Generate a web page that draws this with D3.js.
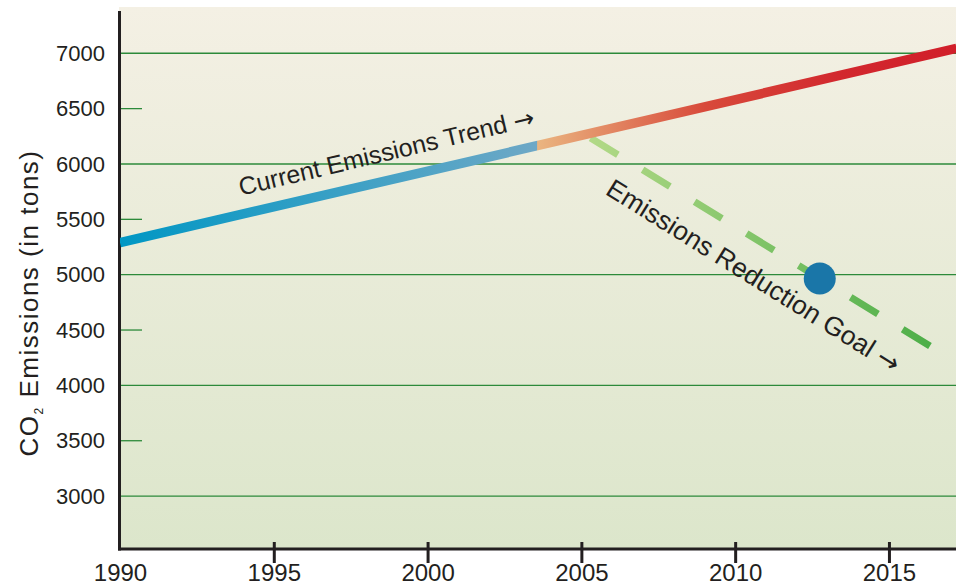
<!DOCTYPE html>
<html lang='en'>
<head>
	<meta charset='UTF-8'/>
	<title>CO2 Emissions: trend vs reduction goal</title>
	<script src='https://cdnjs.cloudflare.com/ajax/libs/d3/7.8.5/d3.min.js'></script>
	<style>
		body {margin: 0; background: #fff;}
		svg {display: block; font-family: 'Liberation Sans', Arial, Helvetica, sans-serif;}
		.arrow {font-family: 'DejaVu Sans', sans-serif;}
	</style>
</head>
<body>
	<div class='graph'></div>
	<script>
		// values
		const xTicks = [1990, 1995, 2000, 2005, 2010, 2015];
		const yTicks = [3000, 3500, 4000, 4500, 5000, 5500, 6000, 6500, 7000];
		const yGrid = [3000, 4000, 5000, 6000, 7000];
		const trendYears = [1990, 2017.2];
		const trendValues = [5290, 7045];
		const goalYears = [2005.3, 2016.4];
		const goalValues = [6235, 4345];
		const targetYears = [2012.75];
		const targetValues = [4965];

		const width = 956, height = 586;
		const ink = '#231f20';

		const x = d3.scaleLinear().domain([1990, 2017.18]).range([120, 956]);
		const y = d3.scaleLinear().domain([2531, 7418]).range([548, 7]);

		const svg = d3.select('.graph')
			.append('svg')
			.attr('width', width)
			.attr('height', height);

		const defs = svg.append('defs');

		// background fade, cream to pale green
		const bg = defs.append('linearGradient')
			.attr('id', 'bgGrad')
			.attr('x1', 0).attr('x2', 0).attr('y1', 0).attr('y2', 1);
		bg.append('stop').attr('offset', 0).attr('stop-color', '#f4f0e4');
		bg.append('stop').attr('offset', 1).attr('stop-color', '#dce6cb');

		// trend line: blue, then a jump to orange fading to red
		const trendGrad = defs.append('linearGradient')
			.attr('id', 'trendGrad')
			.attr('gradientUnits', 'userSpaceOnUse')
			.attr('x1', x(1990)).attr('x2', x.range()[1])
			.attr('y1', 0).attr('y2', 0);
		[[0, '#0097c4'], [0.4985, '#6ea8c6'], [0.4995, '#eab580'],
		 [0.7, '#d84a3b'], [0.86, '#d2282e'], [1, '#d11f2a']]
			.forEach(s => trendGrad.append('stop').attr('offset', s[0]).attr('stop-color', s[1]));

		const goalGrad = defs.append('linearGradient')
			.attr('id', 'goalGrad')
			.attr('gradientUnits', 'userSpaceOnUse')
			.attr('x1', x(goalYears[0])).attr('x2', x(goalYears[1]))
			.attr('y1', 0).attr('y2', 0);
		goalGrad.append('stop').attr('offset', 0).attr('stop-color', '#b2d987');
		goalGrad.append('stop').attr('offset', 1).attr('stop-color', '#4dae48');

		defs.append('clipPath').attr('id', 'plotClip')
			.append('rect')
			.attr('x', x(1990)).attr('y', y.range()[1])
			.attr('width', x.range()[1] - x(1990))
			.attr('height', y.range()[0] - y.range()[1]);

		svg.append('rect')
			.attr('x', x(1990) - 1)
			.attr('y', y.range()[1])
			.attr('width', x.range()[1] - x(1990) + 1)
			.attr('height', y.range()[0] - y.range()[1])
			.attr('fill', 'url(#bgGrad)');

		// gridlines (full) and half-step ticks (short)
		svg.append('g')
			.selectAll('line')
			.data(yTicks)
			.join('line')
			.attr('x1', x(1990))
			.attr('x2', d => yGrid.includes(d) ? x.range()[1] : x(1990) + 22)
			.attr('y1', d => y(d))
			.attr('y2', d => y(d))
			.attr('stroke', '#2c8a3a')
			.attr('stroke-width', 1.3);

		// Y axis labels
		const yAxis = svg.append('g')
			.attr('transform', 'translate(' + x(1990) + ',0)')
			.call(d3.axisLeft(y).tickValues(yTicks).tickSize(0).tickPadding(15).tickFormat(d3.format('d')));
		yAxis.select('.domain').remove();
		yAxis.selectAll('text')
			.attr('fill', ink)
			.style('font-size', '22px')
			.style('font-family', null);

		// X axis
		const xAxis = svg.append('g')
			.attr('transform', 'translate(0,' + (y.range()[0] + 1) + ')')
			.call(d3.axisBottom(x).tickValues(xTicks).tickSize(14).tickFormat(d3.format('d')));
		xAxis.select('.domain').remove();
		xAxis.selectAll('.tick line')
			.attr('y1', -7)
			.attr('stroke', ink)
			.attr('stroke-width', 3)
			.attr('display', d => d === 1990 ? 'none' : null);
		xAxis.selectAll('text')
			.attr('y', 32)
			.attr('dy', 0)
			.attr('fill', ink)
			.style('font-size', '24px')
			.style('font-family', null);

		// frame
		svg.append('line')
			.attr('x1', x(1990) - 0.5).attr('x2', x(1990) - 0.5)
			.attr('y1', 11).attr('y2', y.range()[0] + 2.5)
			.attr('stroke', ink).attr('stroke-width', 3);
		svg.append('line')
			.attr('x1', x(1990) - 2).attr('x2', x.range()[1])
			.attr('y1', y.range()[0] + 1).attr('y2', y.range()[0] + 1)
			.attr('stroke', ink).attr('stroke-width', 3);

		// lines
		const line = d3.line().x(d => x(d[0])).y(d => y(d[1]));

		svg.append('path')
			.datum(d3.zip(goalYears, goalValues))
			.attr('d', line)
			.attr('fill', 'none')
			.attr('stroke', 'url(#goalGrad)')
			.attr('stroke-width', 7)
			.attr('stroke-dasharray', '32 29');

		svg.append('path')
			.datum(d3.zip(trendYears, trendValues))
			.attr('d', line)
			.attr('clip-path', 'url(#plotClip)')
			.attr('fill', 'none')
			.attr('stroke', 'url(#trendGrad)')
			.attr('stroke-width', 9.5);

		svg.selectAll('circle.target')
			.data(d3.zip(targetYears, targetValues))
			.join('circle')
			.attr('class', 'target')
			.attr('cx', d => x(d[0]))
			.attr('cy', d => y(d[1]))
			.attr('r', 16)
			.attr('fill', '#1a76a8');

		// annotations along the lines
		const note1 = svg.append('text')
			.attr('transform', 'translate(' + x(1998.66) + ',' + y(6108) + ') rotate(-13.4)')
			.attr('text-anchor', 'middle')
			.attr('dy', '0.35em')
			.attr('fill', ink)
			.style('font-size', '25px');
		note1.append('tspan').text('Current Emissions Trend ');
		note1.append('tspan').attr('class', 'arrow').text('\u2192');

		const note2 = svg.append('text')
			.attr('transform', 'translate(' + x(2010.6) + ',' + y(4990) + ') rotate(32)')
			.attr('text-anchor', 'middle')
			.attr('dy', '0.35em')
			.attr('fill', ink)
			.style('font-size', '26.5px');
		note2.append('tspan').text('Emissions Reduction Goal ');
		note2.append('tspan').attr('class', 'arrow').text('\u2192');

		// Y title
		const title = svg.append('text')
			.attr('transform', 'translate(38,303) rotate(-90)')
			.attr('text-anchor', 'middle')
			.attr('fill', ink)
			.style('font-size', '26px')
			.style('letter-spacing', '1.5px');
		title.append('tspan').text('CO');
		title.append('tspan').attr('dy', 5).style('font-size', '12px').text('2');
		title.append('tspan').attr('dy', -5).text(' Emissions (in tons)');
	</script>
</body>
</html>
